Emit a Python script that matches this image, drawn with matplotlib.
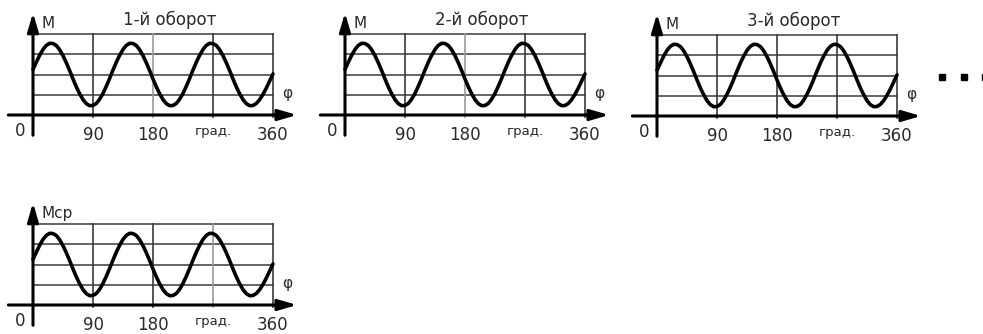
import numpy as np
import matplotlib.pyplot as plt
from matplotlib.lines import Line2D

# angle, degrees (step 5) and torque (grid units)
phi = list(range(0, 361, 5))
m_vals = [2.25, 2.61, 2.95, 3.24, 3.44, 3.54, 3.53, 3.43, 3.22, 2.93, 2.58, 2.19,
          1.78, 1.39, 1.05, 0.76, 0.56, 0.46, 0.47, 0.57, 0.78, 1.07, 1.42, 1.81,
          2.22, 2.61, 2.95, 3.24, 3.44, 3.54, 3.53, 3.43, 3.22, 2.93, 2.58, 2.19,
          1.78, 1.39, 1.05, 0.76, 0.56, 0.46, 0.47, 0.57, 0.78, 1.07, 1.42, 1.81,
          2.22, 2.61, 2.95, 3.24, 3.44, 3.54, 3.53, 3.43, 3.22, 2.93, 2.58, 2.19,
          1.78, 1.39, 1.05, 0.76, 0.56, 0.46, 0.47, 0.57, 0.76, 1.02, 1.33, 1.68,
          2.03]

x_grid = [90, 180, 270, 360]
y_grid = [1, 2, 3, 4]
x_labels = ["90", "180", "град.", "360"]
titles = ["1-й оборот", "2-й оборот", "3-й оборот", ""]
ylabels = ["M", "M", "M", "Мср"]
light_line = [180, 180, None, 270]   # the paler vertical rule in each panel

W, H = 983, 334
# pixel position of the origin of every panel
origins = [(33, 115), (345, 115), (657, 116), (33, 305)]
PX_X = 240 / 360.0      # px per degree
PX_Y = 20.25            # px per unit

FONT = ["DejaVu Sans Condensed", "DejaVu Sans"]
TXT = "#2a2a2a"

fig = plt.figure(figsize=(W / 100, H / 100), dpi=100)

for k, (ox, oy) in enumerate(origins):
    # axes box: 30 px left of origin, 270 px right, 110 px up, 30 px down
    ax = fig.add_axes([(ox - 30) / W, (H - oy - 30) / H, 300 / W, 140 / H])
    ax.set_xlim(-30 / PX_X, 270 / PX_X)
    ax.set_ylim(-30 / PX_Y, 110 / PX_Y)
    ax.axis("off")

    for g in y_grid:
        ax.plot([0, 360], [g, g], color="#4a4a4a", lw=1.2, zorder=1)
    for g in x_grid:
        c = "#999999" if g == light_line[k] else "#3a3a3a"
        ax.plot([g, g], [-0.12, 4], color=c, lw=1.2, zorder=1)

    # axes with arrows
    ax.annotate("", xy=(396, 0), xytext=(-37, 0),
                arrowprops=dict(arrowstyle="-|>,head_length=0.75,head_width=0.22",
                                mutation_scale=15, lw=2.2, color="black",
                                shrinkA=0, shrinkB=0), zorder=3)
    ax.annotate("", xy=(0, 5.05), xytext=(0, -1.0),
                arrowprops=dict(arrowstyle="-|>,head_length=0.75,head_width=0.22",
                                mutation_scale=15, lw=2.2, color="black",
                                shrinkA=0, shrinkB=0), zorder=3)

    ax.plot(phi, m_vals, color="black", lw=2.6, solid_joinstyle="round",
            solid_capstyle="round", zorder=4)

    # labels
    ax.text(-19, -0.8, "0", ha="center", va="center", fontsize=12,
            family=FONT, color=TXT)
    for g, lab in zip(x_grid, x_labels):
        if lab == "град.":
            ax.text(g, -0.8, lab, ha="center", va="center", fontsize=9.5,
                    family=FONT, color=TXT)
        else:
            ax.text(g, -1.0, lab, ha="center", va="center", fontsize=12,
                    family=FONT, color=TXT)
    ax.text(13, 4.3, ylabels[k], ha="left", va="baseline", fontsize=11,
            family=FONT, color=TXT)
    ax.text(381, 1.05, "φ", ha="center", va="center", fontsize=11,
            family=FONT, color=TXT)
    if titles[k]:
        ax.text(205, 4.7, titles[k], ha="center", va="center", fontsize=12,
                family=FONT, color=TXT)

# continuation dots to the right of the third panel
fig.add_artist(Line2D([942 / W, 964 / W, 985 / W], [(H - 77) / H] * 3,
                      transform=fig.transFigure, ls="none", marker="s",
                      ms=4, color="black"))

fig.savefig("out.png", dpi=100)
